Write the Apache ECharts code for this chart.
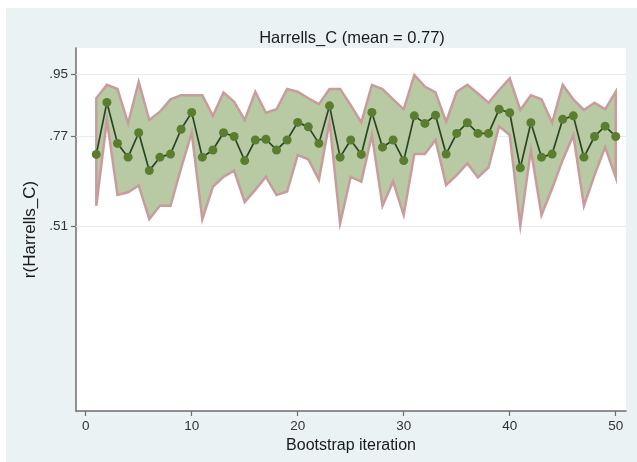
<!DOCTYPE html>
<html>
<head>
<meta charset="utf-8">
<script src="https://cdn.jsdelivr.net/npm/echarts@6/dist/echarts.min.js"></script>
<style>
html,body{margin:0;padding:0;background:#fff;}
#c{width:637px;height:462px;}
</style>
</head>
<body>
<div id="c"></div>
<script>
// ---- data ----
var iterations = [1,2,3,4,5,6,7,8,9,10,11,12,13,14,15,16,17,18,19,20,21,22,23,24,25,26,27,28,29,30,31,32,33,34,35,36,37,38,39,40,41,42,43,44,45,46,47,48,49,50];
var harrellsC = [0.718,0.869,0.750,0.710,0.781,0.671,0.710,0.719,0.791,0.840,
                 0.710,0.731,0.781,0.770,0.700,0.760,0.762,0.731,0.760,0.811,
                 0.798,0.750,0.859,0.710,0.760,0.718,0.840,0.739,0.760,0.700,
                 0.830,0.808,0.832,0.719,0.779,0.810,0.779,0.779,0.849,0.839,
                 0.679,0.810,0.710,0.719,0.820,0.830,0.710,0.770,0.800,0.770];
var upperCI = [0.881,0.920,0.908,0.808,0.929,0.818,0.842,0.878,0.890,0.890,
               0.890,0.830,0.898,0.871,0.818,0.900,0.839,0.849,0.908,0.900,
               0.881,0.864,0.908,0.908,0.861,0.811,0.920,0.908,0.878,0.849,
               0.949,0.915,0.898,0.813,0.900,0.920,0.895,0.868,0.905,0.939,
               0.847,0.890,0.878,0.810,0.920,0.878,0.847,0.868,0.849,0.900];
var lowerCI = [0.569,0.818,0.600,0.608,0.628,0.530,0.569,0.569,0.678,0.781,
               0.530,0.624,0.653,0.671,0.580,0.615,0.653,0.600,0.610,0.716,
               0.704,0.644,0.813,0.518,0.653,0.639,0.774,0.569,0.639,0.542,
               0.719,0.719,0.760,0.629,0.658,0.692,0.651,0.680,0.800,0.774,
               0.511,0.731,0.542,0.619,0.702,0.774,0.569,0.658,0.739,0.651];
var yTicks = [0.51, 0.77, 0.95];
var xTicks = [0, 10, 20, 30, 40, 50];
var titleText = 'Harrells_C (mean = 0.77)';
var yName = 'r(Harrells_C)';
var xName = 'Bootstrap iteration';

var chart = echarts.init(document.getElementById('c'));
var bandData = iterations.map(function (x, k) { return [x, lowerCI[k], upperCI[k]]; });
var lineData = iterations.map(function (x, k) { return [x, harrellsC[k]]; });

var fontFam = '"Liberation Sans", Arial, sans-serif';

chart.setOption({
  animation: false,
  backgroundColor: '#ffffff',
  graphic: [{
    type: 'rect', z: -10, silent: true,
    shape: { x: 6, y: 8, width: 640, height: 460 },
    style: { fill: '#eaf2f3' }
  }],
  title: {
    text: titleText,
    left: 347, top: 25, textAlign: 'center',
    textStyle: { fontFamily: fontFam, fontSize: 16.5, fontWeight: 'normal', color: '#1a1a1a' }
  },
  grid: {
    left: 76, top: 48, width: 550, height: 363,
    show: true, backgroundColor: '#ffffff', borderWidth: 0
  },
  xAxis: {
    type: 'value', min: -0.915, max: 50.97,
    name: xName, nameLocation: 'middle', nameGap: 22,
    nameTextStyle: { fontFamily: fontFam, fontSize: 16, color: '#1a1a1a' },
    axisLine: { show: true, onZero: false, lineStyle: { color: '#6e6e6e', width: 1.5 } },
    axisTick: { show: true, length: 5, customValues: xTicks, lineStyle: { color: '#6e6e6e', width: 1.2 } },
    axisLabel: { customValues: xTicks, margin: 8, fontFamily: fontFam, fontSize: 13.5, color: '#333' },
    splitLine: { show: false }
  },
  yAxis: {
    type: 'value', min: -0.027, max: 1.027,
    name: yName, nameLocation: 'middle', nameGap: 33, nameRotate: 90,
    nameTextStyle: { fontFamily: fontFam, fontSize: 17, color: '#1a1a1a' },
    axisLine: { show: true, onZero: false, lineStyle: { color: '#6e6e6e', width: 1.5 } },
    axisTick: { show: true, length: 5, customValues: yTicks, lineStyle: { color: '#6e6e6e', width: 1.2 } },
    axisLabel: {
      customValues: yTicks, margin: 8, fontFamily: fontFam, fontSize: 13.5, color: '#333',
      formatter: function (v) { return String(v).replace(/^0/, ''); }
    },
    splitLine: { show: false }
  },
  series: [
    {
      type: 'line', data: [], silent: true, z: 1,
      markLine: {
        silent: true, symbol: 'none', animation: false, z: 1,
        label: { show: false },
        lineStyle: { color: '#e8ecec', width: 1, type: 'solid' },
        data: yTicks.map(function (v) { return { yAxis: v }; })
      }
    },
    {
      type: 'custom', z: 2, silent: true,
      data: bandData,
      encode: { x: 0, y: [1, 2] },
      renderItem: function (params, api) {
        if (params.dataIndex !== 0) return null;
        var pts = [];
        for (var k = 0; k < bandData.length; k++) pts.push(api.coord([bandData[k][0], bandData[k][2]]));
        for (var k2 = bandData.length - 1; k2 >= 0; k2--) pts.push(api.coord([bandData[k2][0], bandData[k2][1]]));
        return {
          type: 'polygon',
          shape: { points: pts },
          style: { fill: '#b7caa4', stroke: '#c89c9c', lineWidth: 2.5, lineJoin: 'miter' }
        };
      }
    },
    {
      type: 'line', z: 3, data: lineData,
      symbol: 'circle', symbolSize: 9,
      lineStyle: { color: '#2a4423', width: 1.7 },
      itemStyle: { color: '#5a7e2e', borderWidth: 0 }
    }
  ]
});
</script>
</body>
</html>
